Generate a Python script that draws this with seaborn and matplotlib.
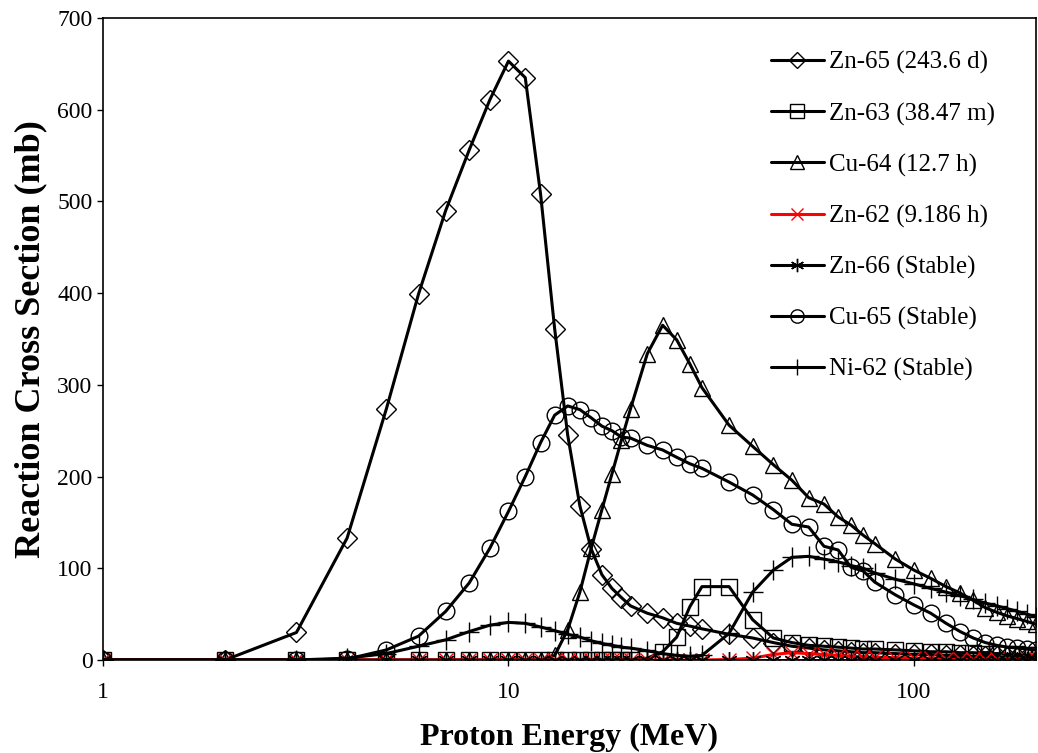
import seaborn as sns
import matplotlib.pyplot as plt
import numpy as np

# proton energies (MeV)
energy = [1, 2, 3, 4, 5, 6, 7, 8, 9, 10, 11, 12, 13, 14, 15, 16, 17, 18, 19, 20,
          22, 24, 26, 28, 30, 35, 40, 45, 50, 55, 60, 65, 70, 75, 80,
          90, 100, 110, 120, 130, 140, 150, 160, 170, 180, 190, 200]

# cross sections (mb)
zn65 = [0, 0, 30, 133, 274, 399, 490, 556, 611, 653, 635, 508, 361, 245, 168, 121, 93, 78, 68, 59,
        51, 46, 40, 37, 34, 28, 24, 19, 15, 13, 11, 10, 9, 8, 8,
        7, 6, 6, 5, 5, 4, 4, 4, 3, 3, 3, 3]
zn63 = [0, 0, 0, 0, 0, 0, 0, 0, 0, 0, 0, 0, 0, 0, 0, 0, 0, 0, 0, 0,
        2, 9, 25, 58, 80, 80, 44, 24, 19, 16, 15, 14, 13, 12, 12,
        11, 10, 9, 9, 8, 8, 7, 7, 6, 6, 5, 5]
cu64 = [0, 0, 0, 0, 0, 0, 0, 0, 0, 0, 0, 0, 5, 33, 74, 122, 164, 203, 240, 274,
        334, 365, 349, 323, 297, 256, 233, 213, 196, 177, 170, 156, 147, 136, 127,
        110, 98, 89, 80, 73, 65, 57, 52, 48, 45, 42, 39]
zn62 = [0, 0, 0, 0, 0, 0, 0, 0, 0, 0, 0, 0, 0, 0, 0, 0, 0, 0, 0, 0,
        0, 0, 0, 0, 0, 0.5, 2, 6, 8, 7, 6, 5, 4, 3.5, 3,
        2.5, 2, 2, 1.5, 1.5, 1.5, 1.5, 1.5, 1.5, 1.5, 1.5, 1.5]
zn66 = [0] * 47
cu65 = [0, 0, 0, 1, 11, 26, 53, 84, 122, 162, 200, 237, 267, 277, 273, 264, 255, 250, 243, 242,
        234, 229, 221, 214, 209, 194, 180, 164, 148, 145, 124, 120, 101, 97, 85,
        71, 60, 51, 40, 31, 24, 19, 16, 14, 13, 12, 11]
ni62 = [0, 0, 0, 2, 7, 15, 22, 31, 38, 41, 40, 36, 32, 28, 25, 21, 18, 16, 14, 13,
        10, 7, 5, 4, 5, 29, 74, 98, 112, 113, 110, 107, 103, 100, 95,
        88, 83, 78, 74, 70, 66, 62, 59, 56, 53, 50, 47]

labels = ["Zn-65 (243.6 d)", "Zn-63 (38.47 m)", "Cu-64 (12.7 h)", "Zn-62 (9.186 h)",
          "Zn-66 (Stable)", "Cu-65 (Stable)", "Ni-62 (Stable)"]
series = [zn65, zn63, cu64, zn62, zn66, cu65, ni62]
markers = ["D", "s", "^", "x", (6, 2, 0), "o", "+"]
msizes = [10, 12, 12, 10, 12, 12, 15]
colors = ["black", "black", "black", "red", "black", "black", "black"]

sns.set_style("ticks")
plt.rcParams["font.family"] = ["Liberation Serif", "DejaVu Serif"]
plt.rcParams["text.color"] = "black"
plt.rcParams["axes.labelcolor"] = "black"
plt.rcParams["xtick.color"] = "black"
plt.rcParams["ytick.color"] = "black"

fig = plt.figure(figsize=(10.38, 7.53), dpi=100)
ax = fig.add_axes([103 / 1038, 1 - 660 / 753, 933 / 1038, 642 / 753])

for vals, lab, mk, ms, c in zip(series, labels, markers, msizes, colors):
    sns.lineplot(x=energy, y=vals, ax=ax, label=lab, color=c, linewidth=2.2,
                 marker=mk, markersize=ms, markerfacecolor="none",
                 markeredgecolor=c, markeredgewidth=1.0)

ax.set_xscale("log")
ax.set_xlim(1, 200)
ax.set_ylim(0, 700)
ax.set_xticks([1, 10, 100])
ax.set_xticklabels(["1", "10", "100"])
ax.set_yticks(range(0, 701, 100))
ax.xaxis.set_minor_locator(plt.NullLocator())
ax.tick_params(axis="both", labelsize=17, direction="out", length=4, width=1,
               colors="black", labelcolor="black")
ax.tick_params(axis="x", pad=12)

for s in ax.spines.values():
    s.set_color("black")
    s.set_linewidth(1.2)

ax.set_xlabel("Proton Energy (MeV)", fontsize=23, fontweight="bold", labelpad=14, color="black")
ax.set_ylabel("Reaction Cross Section (mb)", fontsize=26, fontweight="bold", labelpad=7, color="black")

leg = ax.legend(loc="upper left", bbox_to_anchor=(0.716, 0.948), frameon=False,
                fontsize=18, handlelength=2.1, handletextpad=0.2, labelspacing=1.12,
                borderpad=0, borderaxespad=0, markerscale=0.8)
for t in leg.get_texts():
    t.set_color("black")

fig.savefig("out.png", dpi=100)
